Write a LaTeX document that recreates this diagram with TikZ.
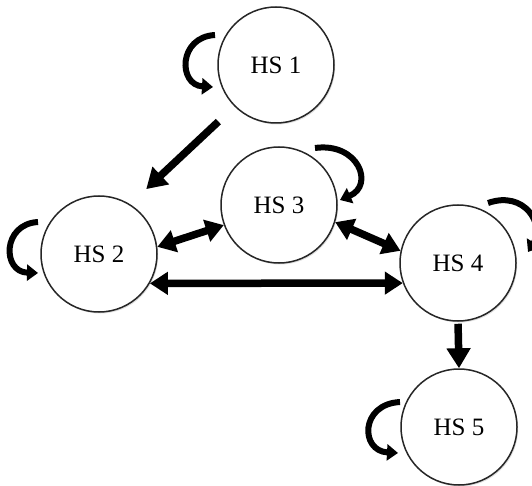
\documentclass[tikz,border=0pt]{standalone}
\usepackage{fontspec}
\setmainfont{Liberation Serif}
\usetikzlibrary{arrows.meta,shadows}
\begin{document}
\begin{tikzpicture}[x=1pt,y=-1pt,
  hs/.style={circle,draw=black!85,line width=1.5pt,fill=white,minimum size=116pt,inner sep=0pt,
    font=\fontsize{25}{29}\selectfont,
    drop shadow={shadow xshift=1.2pt,shadow yshift=-1.5pt,opacity=0.25,fill=gray}},
  big/.style={line width=7.5pt,-{Triangle[length=20pt,width=23pt]}},
  bigboth/.style={line width=7.5pt,{Triangle[length=18pt,width=22pt]}-{Triangle[length=18pt,width=22pt]}},
  loop/.style={line width=6pt,-{Triangle[length=11pt,width=16pt]}}]
\useasboundingbox (0,0) rectangle (532,486);
\node[hs] (HS1) at (276,65) {HS 1};
\node[hs] (HS2) at (99,254) {HS 2};
\node[hs] (HS3) at (279,205) {HS 3};
\node[hs] (HS4) at (458,263) {HS 4};
\node[hs] (HS5) at (459,427) {HS 5};
% straight connectors
\draw[big,shorten <=22pt,shorten >=22pt] (HS1.225) -- (HS2.58);
\draw[bigboth] (HS2.7) -- (HS3.200);
\draw[bigboth] (HS3.-17) -- (HS4.168);
\draw[bigboth] (HS2.-30) -- (HS4.200);
\draw[big,shorten <=2pt] (HS4.south) -- (HS5.north);
% self loops
\draw[loop] ([shift={(-61,-30)}]HS1.center) .. controls ([shift={(-98,-28)}]HS1.center) and ([shift={(-98,20)}]HS1.center) .. ([shift={(-63,22)}]HS1.center);
\draw[loop] ([shift={(-61,-32)}]HS2.center) .. controls ([shift={(-97,-30)}]HS2.center) and ([shift={(-97,18)}]HS2.center) .. ([shift={(-61,19)}]HS2.center);
\draw[loop] ([shift={(-59,-25)}]HS5.center) .. controls ([shift={(-99,-23)}]HS5.center) and ([shift={(-99,24)}]HS5.center) .. ([shift={(-61,26)}]HS5.center);
\draw[loop] ([shift={(36,-57)}]HS3.center) .. controls ([shift={(79,-63)}]HS3.center) and ([shift={(96,-20)}]HS3.center) .. ([shift={(61,-5)}]HS3.center);
\draw[loop] ([shift={(30,-60)}]HS4.center) .. controls ([shift={(67,-73)}]HS4.center) and ([shift={(87,-38)}]HS4.center) .. ([shift={(70,-11)}]HS4.center);
\end{tikzpicture}
\end{document}
